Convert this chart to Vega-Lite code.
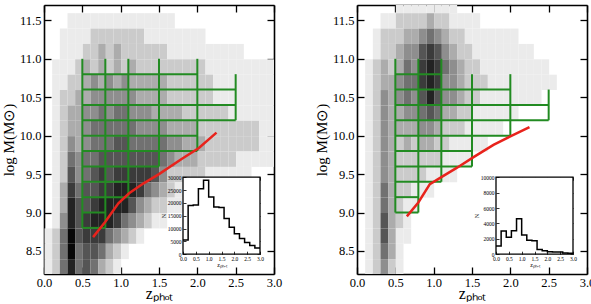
{
"$schema":"https://vega.github.io/schema/vega-lite/v6.json",
"background":"white",
"padding":{"left":1,"top":4,"right":0,"bottom":0},
"spacing":83,
"bounds":"flush",
"config":{
 "view":{"stroke":null},
 "axis":{"grid":false,"zindex":1,"labelFont":"Liberation Serif","titleFont":"Liberation Serif","labelColor":"black","titleColor":"black","tickColor":"black","domainColor":"black","titleFontWeight":"normal","labelFlush":false,"labelOverlap":false}
},
"datasets":{
"densA":[
{"z":0.3,"m":11.4,"d":1},{"z":0.4,"m":11.4,"d":1},{"z":0.5,"m":11.4,"d":1},{"z":0.6,"m":11.4,"d":1},{"z":0.7,"m":11.4,"d":1},{"z":0.8,"m":11.4,"d":1},{"z":0.9,"m":11.4,"d":1},{"z":1.0,"m":11.4,"d":1},{"z":1.1,"m":11.4,"d":1},{"z":1.2,"m":11.4,"d":1},{"z":1.3,"m":11.4,"d":1},{"z":1.4,"m":11.4,"d":1},{"z":1.5,"m":11.4,"d":1},{"z":1.6,"m":11.4,"d":1},
{"z":0.2,"m":11.2,"d":1},{"z":0.3,"m":11.2,"d":1},{"z":0.4,"m":11.2,"d":1},{"z":0.5,"m":11.2,"d":1},{"z":0.6,"m":11.2,"d":2},{"z":0.7,"m":11.2,"d":2},{"z":0.8,"m":11.2,"d":2},{"z":0.9,"m":11.2,"d":2},{"z":1.0,"m":11.2,"d":2},{"z":1.1,"m":11.2,"d":2},{"z":1.2,"m":11.2,"d":2},{"z":1.3,"m":11.2,"d":1},{"z":1.4,"m":11.2,"d":1},{"z":1.5,"m":11.2,"d":1},{"z":1.6,"m":11.2,"d":1},{"z":1.7,"m":11.2,"d":1},{"z":1.8,"m":11.2,"d":1},{"z":1.9,"m":11.2,"d":1},{"z":2.0,"m":11.2,"d":1},
{"z":0.2,"m":11.0,"d":1},{"z":0.3,"m":11.0,"d":1},{"z":0.4,"m":11.0,"d":1},{"z":0.5,"m":11.0,"d":2},{"z":0.6,"m":11.0,"d":2},{"z":0.7,"m":11.0,"d":3},{"z":0.8,"m":11.0,"d":2},{"z":0.9,"m":11.0,"d":3},{"z":1.0,"m":11.0,"d":2},{"z":1.1,"m":11.0,"d":2},{"z":1.2,"m":11.0,"d":2},{"z":1.3,"m":11.0,"d":2},{"z":1.4,"m":11.0,"d":2},{"z":1.5,"m":11.0,"d":2},{"z":1.6,"m":11.0,"d":1},{"z":1.7,"m":11.0,"d":1},{"z":1.8,"m":11.0,"d":1},{"z":1.9,"m":11.0,"d":1},{"z":2.0,"m":11.0,"d":1},{"z":2.1,"m":11.0,"d":1},{"z":2.2,"m":11.0,"d":1},{"z":2.3,"m":11.0,"d":1},{"z":2.4,"m":11.0,"d":1},{"z":2.5,"m":11.0,"d":1},
{"z":0.1,"m":10.8,"d":1},{"z":0.2,"m":10.8,"d":1},{"z":0.3,"m":10.8,"d":1},{"z":0.4,"m":10.8,"d":2},{"z":0.5,"m":10.8,"d":3},{"z":0.6,"m":10.8,"d":2},{"z":0.7,"m":10.8,"d":3},{"z":0.8,"m":10.8,"d":2},{"z":0.9,"m":10.8,"d":3},{"z":1.0,"m":10.8,"d":2},{"z":1.1,"m":10.8,"d":3},{"z":1.2,"m":10.8,"d":2},{"z":1.3,"m":10.8,"d":2},{"z":1.4,"m":10.8,"d":2},{"z":1.5,"m":10.8,"d":2},{"z":1.6,"m":10.8,"d":2},{"z":1.7,"m":10.8,"d":2},{"z":1.8,"m":10.8,"d":2},{"z":1.9,"m":10.8,"d":2},{"z":2.0,"m":10.8,"d":2},{"z":2.1,"m":10.8,"d":1},{"z":2.2,"m":10.8,"d":1},{"z":2.3,"m":10.8,"d":1},{"z":2.4,"m":10.8,"d":1},{"z":2.5,"m":10.8,"d":1},{"z":2.6,"m":10.8,"d":1},{"z":2.7,"m":10.8,"d":1},{"z":2.8,"m":10.8,"d":1},{"z":2.9,"m":10.8,"d":1},
{"z":0.1,"m":10.6,"d":1},{"z":0.2,"m":10.6,"d":1},{"z":0.3,"m":10.6,"d":2},{"z":0.4,"m":10.6,"d":2},{"z":0.5,"m":10.6,"d":3},{"z":0.6,"m":10.6,"d":4},{"z":0.7,"m":10.6,"d":3},{"z":0.8,"m":10.6,"d":4},{"z":0.9,"m":10.6,"d":3},{"z":1.0,"m":10.6,"d":4},{"z":1.1,"m":10.6,"d":3},{"z":1.2,"m":10.6,"d":3},{"z":1.3,"m":10.6,"d":3},{"z":1.4,"m":10.6,"d":3},{"z":1.5,"m":10.6,"d":3},{"z":1.6,"m":10.6,"d":2},{"z":1.7,"m":10.6,"d":2},{"z":1.8,"m":10.6,"d":2},{"z":1.9,"m":10.6,"d":2},{"z":2.0,"m":10.6,"d":2},{"z":2.1,"m":10.6,"d":2},{"z":2.2,"m":10.6,"d":1},{"z":2.3,"m":10.6,"d":1},{"z":2.4,"m":10.6,"d":1},{"z":2.5,"m":10.6,"d":1},{"z":2.6,"m":10.6,"d":1},{"z":2.7,"m":10.6,"d":1},{"z":2.8,"m":10.6,"d":1},{"z":2.9,"m":10.6,"d":1},
{"z":0.1,"m":10.4,"d":1},{"z":0.2,"m":10.4,"d":2},{"z":0.3,"m":10.4,"d":2},{"z":0.4,"m":10.4,"d":3},{"z":0.5,"m":10.4,"d":3},{"z":0.6,"m":10.4,"d":4},{"z":0.7,"m":10.4,"d":4},{"z":0.8,"m":10.4,"d":4},{"z":0.9,"m":10.4,"d":4},{"z":1.0,"m":10.4,"d":4},{"z":1.1,"m":10.4,"d":4},{"z":1.2,"m":10.4,"d":3},{"z":1.3,"m":10.4,"d":3},{"z":1.4,"m":10.4,"d":3},{"z":1.5,"m":10.4,"d":3},{"z":1.6,"m":10.4,"d":2},{"z":1.7,"m":10.4,"d":2},{"z":1.8,"m":10.4,"d":2},{"z":1.9,"m":10.4,"d":2},{"z":2.0,"m":10.4,"d":2},{"z":2.1,"m":10.4,"d":2},{"z":2.2,"m":10.4,"d":1},{"z":2.3,"m":10.4,"d":1},{"z":2.4,"m":10.4,"d":1},{"z":2.5,"m":10.4,"d":1},{"z":2.6,"m":10.4,"d":1},{"z":2.7,"m":10.4,"d":1},{"z":2.8,"m":10.4,"d":1},{"z":2.9,"m":10.4,"d":1},
{"z":0.1,"m":10.2,"d":1},{"z":0.2,"m":10.2,"d":2},{"z":0.3,"m":10.2,"d":3},{"z":0.4,"m":10.2,"d":3},{"z":0.5,"m":10.2,"d":4},{"z":0.6,"m":10.2,"d":4},{"z":0.7,"m":10.2,"d":5},{"z":0.8,"m":10.2,"d":4},{"z":0.9,"m":10.2,"d":5},{"z":1.0,"m":10.2,"d":5},{"z":1.1,"m":10.2,"d":4},{"z":1.2,"m":10.2,"d":4},{"z":1.3,"m":10.2,"d":4},{"z":1.4,"m":10.2,"d":3},{"z":1.5,"m":10.2,"d":3},{"z":1.6,"m":10.2,"d":3},{"z":1.7,"m":10.2,"d":3},{"z":1.8,"m":10.2,"d":2},{"z":1.9,"m":10.2,"d":2},{"z":2.0,"m":10.2,"d":2},{"z":2.1,"m":10.2,"d":2},{"z":2.2,"m":10.2,"d":2},{"z":2.3,"m":10.2,"d":2},{"z":2.4,"m":10.2,"d":1},{"z":2.5,"m":10.2,"d":1},{"z":2.6,"m":10.2,"d":1},{"z":2.7,"m":10.2,"d":1},{"z":2.8,"m":10.2,"d":1},{"z":2.9,"m":10.2,"d":1},
{"z":0.1,"m":10.0,"d":1},{"z":0.2,"m":10.0,"d":2},{"z":0.3,"m":10.0,"d":3},{"z":0.4,"m":10.0,"d":3},{"z":0.5,"m":10.0,"d":4},{"z":0.6,"m":10.0,"d":5},{"z":0.7,"m":10.0,"d":5},{"z":0.8,"m":10.0,"d":5},{"z":0.9,"m":10.0,"d":5},{"z":1.0,"m":10.0,"d":5},{"z":1.1,"m":10.0,"d":5},{"z":1.2,"m":10.0,"d":4},{"z":1.3,"m":10.0,"d":4},{"z":1.4,"m":10.0,"d":4},{"z":1.5,"m":10.0,"d":4},{"z":1.6,"m":10.0,"d":3},{"z":1.7,"m":10.0,"d":3},{"z":1.8,"m":10.0,"d":3},{"z":1.9,"m":10.0,"d":3},{"z":2.0,"m":10.0,"d":2},{"z":2.1,"m":10.0,"d":2},{"z":2.2,"m":10.0,"d":2},{"z":2.3,"m":10.0,"d":2},{"z":2.4,"m":10.0,"d":2},{"z":2.5,"m":10.0,"d":2},{"z":2.6,"m":10.0,"d":2},{"z":2.7,"m":10.0,"d":2},{"z":2.8,"m":10.0,"d":1},{"z":2.9,"m":10.0,"d":1},
{"z":0.1,"m":9.8,"d":1},{"z":0.2,"m":9.8,"d":2},{"z":0.3,"m":9.8,"d":4},{"z":0.4,"m":9.8,"d":3},{"z":0.5,"m":9.8,"d":4},{"z":0.6,"m":9.8,"d":5},{"z":0.7,"m":9.8,"d":5},{"z":0.8,"m":9.8,"d":5},{"z":0.9,"m":9.8,"d":6},{"z":1.0,"m":9.8,"d":6},{"z":1.1,"m":9.8,"d":5},{"z":1.2,"m":9.8,"d":5},{"z":1.3,"m":9.8,"d":5},{"z":1.4,"m":9.8,"d":5},{"z":1.5,"m":9.8,"d":5},{"z":1.6,"m":9.8,"d":4},{"z":1.7,"m":9.8,"d":4},{"z":1.8,"m":9.8,"d":3},{"z":1.9,"m":9.8,"d":3},{"z":2.0,"m":9.8,"d":3},{"z":2.1,"m":9.8,"d":2},{"z":2.2,"m":9.8,"d":2},{"z":2.3,"m":9.8,"d":2},{"z":2.4,"m":9.8,"d":2},{"z":2.5,"m":9.8,"d":2},{"z":2.6,"m":9.8,"d":2},{"z":2.7,"m":9.8,"d":2},{"z":2.8,"m":9.8,"d":1},{"z":2.9,"m":9.8,"d":1},
{"z":0.1,"m":9.6,"d":1},{"z":0.2,"m":9.6,"d":2},{"z":0.3,"m":9.6,"d":5},{"z":0.4,"m":9.6,"d":4},{"z":0.5,"m":9.6,"d":5},{"z":0.6,"m":9.6,"d":5},{"z":0.7,"m":9.6,"d":6},{"z":0.8,"m":9.6,"d":6},{"z":0.9,"m":9.6,"d":6},{"z":1.0,"m":9.6,"d":6},{"z":1.1,"m":9.6,"d":6},{"z":1.2,"m":9.6,"d":6},{"z":1.3,"m":9.6,"d":6},{"z":1.4,"m":9.6,"d":6},{"z":1.5,"m":9.6,"d":5},{"z":1.6,"m":9.6,"d":4},{"z":1.7,"m":9.6,"d":3},{"z":1.8,"m":9.6,"d":3},{"z":1.9,"m":9.6,"d":3},{"z":2.0,"m":9.6,"d":2},{"z":2.1,"m":9.6,"d":2},{"z":2.2,"m":9.6,"d":2},{"z":2.3,"m":9.6,"d":2},{"z":2.4,"m":9.6,"d":2},{"z":2.5,"m":9.6,"d":1},{"z":2.6,"m":9.6,"d":1},{"z":2.7,"m":9.6,"d":1},{"z":2.8,"m":9.6,"d":1},{"z":2.9,"m":9.6,"d":1},
{"z":0.1,"m":9.4,"d":1},{"z":0.2,"m":9.4,"d":2},{"z":0.3,"m":9.4,"d":6},{"z":0.4,"m":9.4,"d":4},{"z":0.5,"m":9.4,"d":5},{"z":0.6,"m":9.4,"d":6},{"z":0.7,"m":9.4,"d":7},{"z":0.8,"m":9.4,"d":6},{"z":0.9,"m":9.4,"d":7},{"z":1.0,"m":9.4,"d":7},{"z":1.1,"m":9.4,"d":7},{"z":1.2,"m":9.4,"d":7},{"z":1.3,"m":9.4,"d":7},{"z":1.4,"m":9.4,"d":6},{"z":1.5,"m":9.4,"d":4},{"z":1.6,"m":9.4,"d":2},{"z":1.7,"m":9.4,"d":2},{"z":1.8,"m":9.4,"d":2},{"z":1.9,"m":9.4,"d":2},{"z":2.0,"m":9.4,"d":2},{"z":2.1,"m":9.4,"d":1},{"z":2.2,"m":9.4,"d":1},{"z":2.3,"m":9.4,"d":1},{"z":2.4,"m":9.4,"d":1},{"z":2.5,"m":9.4,"d":1},{"z":2.6,"m":9.4,"d":1},
{"z":0.1,"m":9.2,"d":1},{"z":0.2,"m":9.2,"d":3},{"z":0.3,"m":9.2,"d":7},{"z":0.4,"m":9.2,"d":5},{"z":0.5,"m":9.2,"d":6},{"z":0.6,"m":9.2,"d":6},{"z":0.7,"m":9.2,"d":7},{"z":0.8,"m":9.2,"d":7},{"z":0.9,"m":9.2,"d":8},{"z":1.0,"m":9.2,"d":8},{"z":1.1,"m":9.2,"d":8},{"z":1.2,"m":9.2,"d":7},{"z":1.3,"m":9.2,"d":5},{"z":1.4,"m":9.2,"d":4},{"z":1.5,"m":9.2,"d":3},{"z":1.6,"m":9.2,"d":2},{"z":1.7,"m":9.2,"d":1},{"z":1.8,"m":9.2,"d":1},{"z":1.9,"m":9.2,"d":1},{"z":2.0,"m":9.2,"d":1},{"z":2.1,"m":9.2,"d":1},
{"z":0.1,"m":9.0,"d":1},{"z":0.2,"m":9.0,"d":3},{"z":0.3,"m":9.0,"d":8},{"z":0.4,"m":9.0,"d":6},{"z":0.5,"m":9.0,"d":6},{"z":0.6,"m":9.0,"d":7},{"z":0.7,"m":9.0,"d":8},{"z":0.8,"m":9.0,"d":8},{"z":0.9,"m":9.0,"d":8},{"z":1.0,"m":9.0,"d":8},{"z":1.1,"m":9.0,"d":6},{"z":1.2,"m":9.0,"d":4},{"z":1.3,"m":9.0,"d":3},{"z":1.4,"m":9.0,"d":2},{"z":1.5,"m":9.0,"d":2},{"z":1.6,"m":9.0,"d":1},{"z":1.7,"m":9.0,"d":1},
{"z":0.1,"m":8.8,"d":1},{"z":0.2,"m":8.8,"d":4},{"z":0.3,"m":8.8,"d":8},{"z":0.4,"m":8.8,"d":6},{"z":0.5,"m":8.8,"d":7},{"z":0.6,"m":8.8,"d":8},{"z":0.7,"m":8.8,"d":8},{"z":0.8,"m":8.8,"d":8},{"z":0.9,"m":8.8,"d":7},{"z":1.0,"m":8.8,"d":5},{"z":1.1,"m":8.8,"d":4},{"z":1.2,"m":8.8,"d":3},{"z":1.3,"m":8.8,"d":2},{"z":1.4,"m":8.8,"d":1},{"z":1.5,"m":8.8,"d":1},
{"z":0.0,"m":8.6,"d":1},{"z":0.1,"m":8.6,"d":2},{"z":0.2,"m":8.6,"d":5},{"z":0.3,"m":8.6,"d":9},{"z":0.4,"m":8.6,"d":6},{"z":0.5,"m":8.6,"d":7},{"z":0.6,"m":8.6,"d":7},{"z":0.7,"m":8.6,"d":7},{"z":0.8,"m":8.6,"d":5},{"z":0.9,"m":8.6,"d":4},{"z":1.0,"m":8.6,"d":3},{"z":1.1,"m":8.6,"d":2},{"z":1.2,"m":8.6,"d":1},
{"z":0.0,"m":8.4,"d":1},{"z":0.1,"m":8.4,"d":2},{"z":0.2,"m":8.4,"d":5},{"z":0.3,"m":8.4,"d":9},{"z":0.4,"m":8.4,"d":5},{"z":0.5,"m":8.4,"d":6},{"z":0.6,"m":8.4,"d":6},{"z":0.7,"m":8.4,"d":5},{"z":0.8,"m":8.4,"d":3},{"z":0.9,"m":8.4,"d":2},{"z":1.0,"m":8.4,"d":1},
{"z":0.0,"m":8.2,"d":1},{"z":0.1,"m":8.2,"d":2},{"z":0.2,"m":8.2,"d":5},{"z":0.3,"m":8.2,"d":8},{"z":0.4,"m":8.2,"d":5},{"z":0.5,"m":8.2,"d":6},{"z":0.6,"m":8.2,"d":5},{"z":0.7,"m":8.2,"d":3},{"z":0.8,"m":8.2,"d":2},{"z":0.9,"m":8.2,"d":1}
],
"densB":[
{"z":0.5,"m":11.6,"d":1},{"z":0.6,"m":11.6,"d":1},{"z":0.7,"m":11.6,"d":1},{"z":0.8,"m":11.6,"d":1},{"z":0.9,"m":11.6,"d":1},{"z":1.0,"m":11.6,"d":1},{"z":1.1,"m":11.6,"d":1},{"z":1.2,"m":11.6,"d":1},
{"z":0.3,"m":11.4,"d":1},{"z":0.4,"m":11.4,"d":1},{"z":0.5,"m":11.4,"d":2},{"z":0.6,"m":11.4,"d":2},{"z":0.7,"m":11.4,"d":2},{"z":0.8,"m":11.4,"d":2},{"z":0.9,"m":11.4,"d":3},{"z":1.0,"m":11.4,"d":2},{"z":1.1,"m":11.4,"d":2},{"z":1.2,"m":11.4,"d":1},{"z":1.3,"m":11.4,"d":1},{"z":1.4,"m":11.4,"d":1},{"z":1.5,"m":11.4,"d":1},
{"z":0.2,"m":11.2,"d":1},{"z":0.3,"m":11.2,"d":2},{"z":0.4,"m":11.2,"d":2},{"z":0.5,"m":11.2,"d":2},{"z":0.6,"m":11.2,"d":3},{"z":0.7,"m":11.2,"d":3},{"z":0.8,"m":11.2,"d":4},{"z":0.9,"m":11.2,"d":5},{"z":1.0,"m":11.2,"d":4},{"z":1.1,"m":11.2,"d":3},{"z":1.2,"m":11.2,"d":2},{"z":1.3,"m":11.2,"d":2},{"z":1.4,"m":11.2,"d":1},{"z":1.5,"m":11.2,"d":1},{"z":1.6,"m":11.2,"d":1},{"z":1.7,"m":11.2,"d":1},{"z":1.8,"m":11.2,"d":1},{"z":1.9,"m":11.2,"d":1},{"z":2.0,"m":11.2,"d":1},
{"z":0.2,"m":11.0,"d":1},{"z":0.3,"m":11.0,"d":2},{"z":0.4,"m":11.0,"d":2},{"z":0.5,"m":11.0,"d":3},{"z":0.6,"m":11.0,"d":4},{"z":0.7,"m":11.0,"d":4},{"z":0.8,"m":11.0,"d":6},{"z":0.9,"m":11.0,"d":7},{"z":1.0,"m":11.0,"d":6},{"z":1.1,"m":11.0,"d":4},{"z":1.2,"m":11.0,"d":3},{"z":1.3,"m":11.0,"d":2},{"z":1.4,"m":11.0,"d":2},{"z":1.5,"m":11.0,"d":1},{"z":1.6,"m":11.0,"d":1},{"z":1.7,"m":11.0,"d":1},{"z":1.8,"m":11.0,"d":1},{"z":1.9,"m":11.0,"d":1},{"z":2.0,"m":11.0,"d":1},{"z":2.1,"m":11.0,"d":1},{"z":2.2,"m":11.0,"d":1},
{"z":0.1,"m":10.8,"d":1},{"z":0.2,"m":10.8,"d":2},{"z":0.3,"m":10.8,"d":3},{"z":0.4,"m":10.8,"d":2},{"z":0.5,"m":10.8,"d":3},{"z":0.6,"m":10.8,"d":5},{"z":0.7,"m":10.8,"d":4},{"z":0.8,"m":10.8,"d":7},{"z":0.9,"m":10.8,"d":8},{"z":1.0,"m":10.8,"d":7},{"z":1.1,"m":10.8,"d":5},{"z":1.2,"m":10.8,"d":4},{"z":1.3,"m":10.8,"d":3},{"z":1.4,"m":10.8,"d":2},{"z":1.5,"m":10.8,"d":2},{"z":1.6,"m":10.8,"d":1},{"z":1.7,"m":10.8,"d":1},{"z":1.8,"m":10.8,"d":1},{"z":1.9,"m":10.8,"d":1},{"z":2.0,"m":10.8,"d":1},{"z":2.1,"m":10.8,"d":1},{"z":2.2,"m":10.8,"d":1},{"z":2.3,"m":10.8,"d":1},{"z":2.4,"m":10.8,"d":1},
{"z":0.1,"m":10.6,"d":1},{"z":0.2,"m":10.6,"d":2},{"z":0.3,"m":10.6,"d":3},{"z":0.4,"m":10.6,"d":3},{"z":0.5,"m":10.6,"d":4},{"z":0.6,"m":10.6,"d":5},{"z":0.7,"m":10.6,"d":5},{"z":0.8,"m":10.6,"d":7},{"z":0.9,"m":10.6,"d":8},{"z":1.0,"m":10.6,"d":7},{"z":1.1,"m":10.6,"d":4},{"z":1.2,"m":10.6,"d":4},{"z":1.3,"m":10.6,"d":3},{"z":1.4,"m":10.6,"d":2},{"z":1.5,"m":10.6,"d":2},{"z":1.6,"m":10.6,"d":2},{"z":1.7,"m":10.6,"d":1},{"z":1.8,"m":10.6,"d":1},{"z":1.9,"m":10.6,"d":1},{"z":2.0,"m":10.6,"d":1},{"z":2.1,"m":10.6,"d":1},{"z":2.2,"m":10.6,"d":1},{"z":2.3,"m":10.6,"d":1},{"z":2.4,"m":10.6,"d":1},{"z":2.5,"m":10.6,"d":1},
{"z":0.1,"m":10.4,"d":1},{"z":0.2,"m":10.4,"d":2},{"z":0.3,"m":10.4,"d":4},{"z":0.4,"m":10.4,"d":3},{"z":0.5,"m":10.4,"d":4},{"z":0.6,"m":10.4,"d":5},{"z":0.7,"m":10.4,"d":4},{"z":0.8,"m":10.4,"d":6},{"z":0.9,"m":10.4,"d":8},{"z":1.0,"m":10.4,"d":6},{"z":1.1,"m":10.4,"d":4},{"z":1.2,"m":10.4,"d":4},{"z":1.3,"m":10.4,"d":3},{"z":1.4,"m":10.4,"d":2},{"z":1.5,"m":10.4,"d":2},{"z":1.6,"m":10.4,"d":1},{"z":1.7,"m":10.4,"d":1},{"z":1.8,"m":10.4,"d":1},{"z":1.9,"m":10.4,"d":1},{"z":2.0,"m":10.4,"d":1},{"z":2.1,"m":10.4,"d":1},{"z":2.2,"m":10.4,"d":1},{"z":2.3,"m":10.4,"d":1},
{"z":0.1,"m":10.2,"d":1},{"z":0.2,"m":10.2,"d":2},{"z":0.3,"m":10.2,"d":4},{"z":0.4,"m":10.2,"d":3},{"z":0.5,"m":10.2,"d":3},{"z":0.6,"m":10.2,"d":4},{"z":0.7,"m":10.2,"d":4},{"z":0.8,"m":10.2,"d":5},{"z":0.9,"m":10.2,"d":6},{"z":1.0,"m":10.2,"d":5},{"z":1.1,"m":10.2,"d":3},{"z":1.2,"m":10.2,"d":3},{"z":1.3,"m":10.2,"d":2},{"z":1.4,"m":10.2,"d":2},{"z":1.5,"m":10.2,"d":1},{"z":1.6,"m":10.2,"d":1},{"z":1.7,"m":10.2,"d":1},{"z":1.8,"m":10.2,"d":1},{"z":1.9,"m":10.2,"d":1},{"z":2.0,"m":10.2,"d":1},
{"z":0.1,"m":10.0,"d":1},{"z":0.2,"m":10.0,"d":2},{"z":0.3,"m":10.0,"d":4},{"z":0.4,"m":10.0,"d":3},{"z":0.5,"m":10.0,"d":3},{"z":0.6,"m":10.0,"d":3},{"z":0.7,"m":10.0,"d":3},{"z":0.8,"m":10.0,"d":4},{"z":0.9,"m":10.0,"d":4},{"z":1.0,"m":10.0,"d":3},{"z":1.1,"m":10.0,"d":2},{"z":1.2,"m":10.0,"d":2},{"z":1.3,"m":10.0,"d":2},{"z":1.4,"m":10.0,"d":1},{"z":1.5,"m":10.0,"d":1},{"z":1.6,"m":10.0,"d":1},{"z":1.7,"m":10.0,"d":1},{"z":1.8,"m":10.0,"d":1},
{"z":0.1,"m":9.8,"d":1},{"z":0.2,"m":9.8,"d":2},{"z":0.3,"m":9.8,"d":4},{"z":0.4,"m":9.8,"d":3},{"z":0.5,"m":9.8,"d":2},{"z":0.6,"m":9.8,"d":3},{"z":0.7,"m":9.8,"d":2},{"z":0.8,"m":9.8,"d":3},{"z":0.9,"m":9.8,"d":3},{"z":1.0,"m":9.8,"d":2},{"z":1.1,"m":9.8,"d":2},{"z":1.2,"m":9.8,"d":1},{"z":1.3,"m":9.8,"d":1},{"z":1.4,"m":9.8,"d":1},{"z":1.5,"m":9.8,"d":1},{"z":1.6,"m":9.8,"d":1},
{"z":0.1,"m":9.6,"d":1},{"z":0.2,"m":9.6,"d":2},{"z":0.3,"m":9.6,"d":4},{"z":0.4,"m":9.6,"d":3},{"z":0.5,"m":9.6,"d":2},{"z":0.6,"m":9.6,"d":2},{"z":0.7,"m":9.6,"d":2},{"z":0.8,"m":9.6,"d":2},{"z":0.9,"m":9.6,"d":2},{"z":1.0,"m":9.6,"d":2},{"z":1.1,"m":9.6,"d":1},{"z":1.2,"m":9.6,"d":1},{"z":1.3,"m":9.6,"d":1},{"z":1.4,"m":9.6,"d":1},
{"z":0.1,"m":9.4,"d":1},{"z":0.2,"m":9.4,"d":2},{"z":0.3,"m":9.4,"d":4},{"z":0.4,"m":9.4,"d":3},{"z":0.5,"m":9.4,"d":2},{"z":0.6,"m":9.4,"d":2},{"z":0.7,"m":9.4,"d":2},{"z":0.8,"m":9.4,"d":2},{"z":0.9,"m":9.4,"d":1},{"z":1.0,"m":9.4,"d":1},{"z":1.1,"m":9.4,"d":1},{"z":1.2,"m":9.4,"d":1},
{"z":0.1,"m":9.2,"d":1},{"z":0.2,"m":9.2,"d":2},{"z":0.3,"m":9.2,"d":5},{"z":0.4,"m":9.2,"d":3},{"z":0.5,"m":9.2,"d":2},{"z":0.6,"m":9.2,"d":2},{"z":0.7,"m":9.2,"d":1},{"z":0.8,"m":9.2,"d":1},{"z":0.9,"m":9.2,"d":1},
{"z":0.1,"m":9.0,"d":1},{"z":0.2,"m":9.0,"d":2},{"z":0.3,"m":9.0,"d":5},{"z":0.4,"m":9.0,"d":3},{"z":0.5,"m":9.0,"d":2},{"z":0.6,"m":9.0,"d":1},{"z":0.7,"m":9.0,"d":1},
{"z":0.1,"m":8.8,"d":1},{"z":0.2,"m":8.8,"d":2},{"z":0.3,"m":8.8,"d":6},{"z":0.4,"m":8.8,"d":3},{"z":0.5,"m":8.8,"d":2},{"z":0.6,"m":8.8,"d":1},
{"z":0.1,"m":8.6,"d":1},{"z":0.2,"m":8.6,"d":2},{"z":0.3,"m":8.6,"d":6},{"z":0.4,"m":8.6,"d":3},{"z":0.5,"m":8.6,"d":1},{"z":0.6,"m":8.6,"d":1},
{"z":0.1,"m":8.4,"d":1},{"z":0.2,"m":8.4,"d":2},{"z":0.3,"m":8.4,"d":5},{"z":0.4,"m":8.4,"d":3},{"z":0.5,"m":8.4,"d":1},
{"z":0.1,"m":8.2,"d":1},{"z":0.2,"m":8.2,"d":2},{"z":0.3,"m":8.2,"d":4},{"z":0.4,"m":8.2,"d":2},{"z":0.5,"m":8.2,"d":1}
],
"gridA":[
{"z":0.5,"z2":0.5,"m":8.8,"m2":11},{"z":0.8,"z2":0.8,"m":8.8,"m2":11},{"z":1.1,"z2":1.1,"m":9.2,"m2":11},{"z":1.5,"z2":1.5,"m":9.6,"m2":11},{"z":2,"z2":2,"m":9.8,"m2":11},{"z":2.5,"z2":2.5,"m":10.2,"m2":10.8},
{"z":0.5,"z2":2,"m":10.8,"m2":10.8},{"z":0.5,"z2":2.5,"m":10.6,"m2":10.6},{"z":0.5,"z2":2.5,"m":10.4,"m2":10.4},{"z":0.5,"z2":2.5,"m":10.2,"m2":10.2},{"z":0.5,"z2":2,"m":10,"m2":10},{"z":0.5,"z2":2,"m":9.8,"m2":9.8},{"z":0.5,"z2":1.5,"m":9.6,"m2":9.6},{"z":0.5,"z2":1.1,"m":9.4,"m2":9.4},{"z":0.5,"z2":1.1,"m":9.2,"m2":9.2},{"z":0.5,"z2":0.8,"m":9,"m2":9},{"z":0.5,"z2":0.8,"m":8.8,"m2":8.8}
],
"gridB":[
{"z":0.5,"z2":0.5,"m":9,"m2":11},{"z":0.8,"z2":0.8,"m":9,"m2":11},{"z":1.1,"z2":1.1,"m":9.4,"m2":11},{"z":1.5,"z2":1.5,"m":9.6,"m2":10.8},{"z":2,"z2":2,"m":10,"m2":10.8},{"z":2.5,"z2":2.5,"m":10.2,"m2":10.6},
{"z":0.5,"z2":1.1,"m":10.8,"m2":10.8},{"z":0.5,"z2":2,"m":10.6,"m2":10.6},{"z":0.5,"z2":2.5,"m":10.4,"m2":10.4},{"z":0.5,"z2":2.5,"m":10.2,"m2":10.2},{"z":0.5,"z2":2,"m":10,"m2":10},{"z":0.5,"z2":1.5,"m":9.8,"m2":9.8},{"z":0.5,"z2":1.5,"m":9.6,"m2":9.6},{"z":0.5,"z2":1.1,"m":9.4,"m2":9.4},{"z":0.5,"z2":0.8,"m":9.2,"m2":9.2},{"z":0.5,"z2":0.8,"m":9,"m2":9}
],
"limA":[
{"z":0.64,"m":8.68},{"z":0.8,"m":8.88},{"z":0.97,"m":9.12},{"z":1.11,"m":9.25},{"z":1.3,"m":9.38},{"z":1.5,"m":9.5},{"z":1.8,"m":9.7},{"z":2.02,"m":9.84},{"z":2.25,"m":10.04}
],
"limB":[
{"z":0.65,"m":8.95},{"z":0.8,"m":9.13},{"z":0.95,"m":9.37},{"z":1.1,"m":9.46},{"z":1.3,"m":9.58},{"z":1.52,"m":9.72},{"z":1.78,"m":9.88},{"z":2.0,"m":9.99},{"z":2.25,"m":10.11}
],
"histA":[
{"z":0,"n":5500},{"z":0.2,"n":19000},{"z":0.4,"n":19200},{"z":0.6,"n":25500},{"z":0.8,"n":28800},{"z":1.0,"n":22300},{"z":1.2,"n":18400},{"z":1.4,"n":18200},{"z":1.6,"n":13900},{"z":1.8,"n":10500},{"z":2.0,"n":8000},{"z":2.2,"n":6100},{"z":2.4,"n":4600},{"z":2.6,"n":3400},{"z":2.8,"n":2400},{"z":3.0,"n":2400}
],
"histB":[
{"z":0,"n":1050},{"z":0.2,"n":3000},{"z":0.4,"n":2200},{"z":0.6,"n":3050},{"z":0.8,"n":4600},{"z":1.0,"n":2500},{"z":1.2,"n":1800},{"z":1.4,"n":1750},{"z":1.6,"n":600},{"z":1.8,"n":450},{"z":2.0,"n":320},{"z":2.2,"n":300},{"z":2.4,"n":280},{"z":2.6,"n":150},{"z":2.8,"n":110},{"z":3.0,"n":110}
]
},
"hconcat":[
{
"width":230,"height":269,
"resolve":{"scale":{"x":"independent","y":"independent","color":"independent"},"axis":{"x":"independent","y":"independent"}},
"layer":[
{"data":{"name":"densA"},"mark":{"type":"rect","clip":true},"encoding":{
 "x":{"field":"z","type":"quantitative","bin":{"binned":true,"step":0.1},"scale":{"domain":[0,3],"nice":false,"zero":false},"axis":null},
 "y":{"field":"m","type":"quantitative","bin":{"binned":true,"step":0.2},"scale":{"domain":[8.2,11.7],"nice":false,"zero":false},"axis":null},
 "color":{"field":"d","type":"quantitative","scale":{"domain":[0.4,9],"range":["#ffffff","#080808"],"clamp":true},"legend":null}}},
{"data":{"name":"gridA"},"mark":{"type":"rule","color":"#228b22","strokeWidth":2},"encoding":{
 "x":{"field":"z","type":"quantitative","scale":{"domain":[0,3],"nice":false,"zero":false},"axis":{"orient":"bottom","values":[0,0.5,1,1.5,2,2.5,3],"format":".1f","tickSize":-7,"tickWidth":1.3,"labelPadding":9,"labelFontSize":12.5,"domain":true,"domainWidth":1.6,"title":"zₚₕₒₜ","titleFontSize":16,"titlePadding":-3}},
 "x2":{"field":"z2"},
 "y":{"field":"m","type":"quantitative","scale":{"domain":[8.2,11.7],"nice":false,"zero":false},"axis":{"orient":"left","values":[8.5,9,9.5,10,10.5,11,11.5],"format":".1f","tickSize":-7,"tickWidth":1.3,"labelPadding":10,"labelFontSize":12.5,"domain":true,"domainWidth":1.6,"title":"log M(M⊙)","titleFontSize":15,"titlePadding":3}},
 "y2":{"field":"m2"}}},
{"data":{"name":"limA"},"mark":{"type":"line","color":"#e8231c","strokeWidth":2.5},"encoding":{
 "x":{"field":"z","type":"quantitative","scale":{"domain":[0,3],"nice":false,"zero":false},"axis":{"orient":"top","values":[0,0.5,1,1.5,2,2.5,3],"tickSize":-7,"tickWidth":1.3,"labels":false,"domain":true,"domainWidth":1.6,"title":null}},
 "y":{"field":"m","type":"quantitative","scale":{"domain":[8.2,11.7],"nice":false,"zero":false},"axis":{"orient":"right","values":[8.5,9,9.5,10,10.5,11,11.5],"tickSize":-7,"tickWidth":1.3,"labels":false,"domain":true,"domainWidth":1.6,"title":null}}}},
{"data":{"values":[{}]},"mark":{"type":"rect","fill":"white","stroke":"black","strokeWidth":1.3},"encoding":{
 "x":{"datum":0,"type":"quantitative","scale":{"domain":[0,3],"range":[139,216],"nice":false,"zero":false},"axis":{"orient":"top","offset":-172.2,"values":[0,0.5,1,1.5,2,2.5,3],"tickSize":-3,"tickWidth":0.8,"labels":false,"domain":false,"title":null}},
 "x2":{"datum":3},
 "y":{"datum":0,"type":"quantitative","scale":{"domain":[0,30000],"range":[249.2,172.2],"nice":false,"zero":false},"axis":{"orient":"right","offset":-14,"values":[0,5000,10000,15000,20000,25000,30000],"tickSize":-3,"tickWidth":0.8,"labels":false,"domain":false,"title":null}},
 "y2":{"datum":30000}}},
{"data":{"name":"histA"},"mark":{"type":"line","interpolate":"step-after","color":"black","strokeWidth":1.5},"encoding":{
 "x":{"field":"z","type":"quantitative","scale":{"domain":[0,3],"range":[139,216],"nice":false,"zero":false},"axis":{"orient":"bottom","offset":-19.8,"zindex":2,"values":[0,0.5,1,1.5,2,2.5,3],"format":".1f","tickSize":-3,"tickWidth":0.8,"labelPadding":5,"labelFontSize":5.5,"labelOverlap":false,"domain":false,"title":"zₚₕₒₜ","titleFontSize":6,"titlePadding":0}},
 "y":{"field":"n","type":"quantitative","scale":{"domain":[0,30000],"range":[249.2,172.2],"nice":false,"zero":false},"axis":{"orient":"left","offset":-139,"zindex":2,"values":[0,5000,10000,15000,20000,25000,30000],"format":"d","tickSize":-3,"tickWidth":0.8,"labelPadding":5,"labelFontSize":5.5,"labelOverlap":false,"labelBound":false,"domain":false,"title":"N","titleFontSize":6,"titlePadding":1}}}}
]
},
{
"width":230,"height":269,
"resolve":{"scale":{"x":"independent","y":"independent","color":"independent"},"axis":{"x":"independent","y":"independent"}},
"layer":[
{"data":{"name":"densB"},"mark":{"type":"rect","clip":true},"encoding":{
 "x":{"field":"z","type":"quantitative","bin":{"binned":true,"step":0.1},"scale":{"domain":[0,3],"nice":false,"zero":false},"axis":null},
 "y":{"field":"m","type":"quantitative","bin":{"binned":true,"step":0.2},"scale":{"domain":[8.2,11.7],"nice":false,"zero":false},"axis":null},
 "color":{"field":"d","type":"quantitative","scale":{"domain":[0.4,9],"range":["#ffffff","#080808"],"clamp":true},"legend":null}}},
{"data":{"name":"gridB"},"mark":{"type":"rule","color":"#228b22","strokeWidth":2},"encoding":{
 "x":{"field":"z","type":"quantitative","scale":{"domain":[0,3],"nice":false,"zero":false},"axis":{"orient":"bottom","values":[0,0.5,1,1.5,2,2.5,3],"format":".1f","tickSize":-7,"tickWidth":1.3,"labelPadding":9,"labelFontSize":12.5,"domain":true,"domainWidth":1.6,"title":"zₚₕₒₜ","titleFontSize":16,"titlePadding":-3}},
 "x2":{"field":"z2"},
 "y":{"field":"m","type":"quantitative","scale":{"domain":[8.2,11.7],"nice":false,"zero":false},"axis":{"orient":"left","values":[8.5,9,9.5,10,10.5,11,11.5],"format":".1f","tickSize":-7,"tickWidth":1.3,"labelPadding":10,"labelFontSize":12.5,"domain":true,"domainWidth":1.6,"title":"log M(M⊙)","titleFontSize":15,"titlePadding":3}},
 "y2":{"field":"m2"}}},
{"data":{"name":"limB"},"mark":{"type":"line","color":"#e8231c","strokeWidth":2.5},"encoding":{
 "x":{"field":"z","type":"quantitative","scale":{"domain":[0,3],"nice":false,"zero":false},"axis":{"orient":"top","values":[0,0.5,1,1.5,2,2.5,3],"tickSize":-7,"tickWidth":1.3,"labels":false,"domain":true,"domainWidth":1.6,"title":null}},
 "y":{"field":"m","type":"quantitative","scale":{"domain":[8.2,11.7],"nice":false,"zero":false},"axis":{"orient":"right","values":[8.5,9,9.5,10,10.5,11,11.5],"tickSize":-7,"tickWidth":1.3,"labels":false,"domain":true,"domainWidth":1.6,"title":null}}}},
{"data":{"values":[{}]},"mark":{"type":"rect","fill":"white","stroke":"black","strokeWidth":1.3},"encoding":{
 "x":{"datum":0,"type":"quantitative","scale":{"domain":[0,3],"range":[139,216],"nice":false,"zero":false},"axis":{"orient":"top","offset":-172.2,"values":[0,0.5,1,1.5,2,2.5,3],"tickSize":-3,"tickWidth":0.8,"labels":false,"domain":false,"title":null}},
 "x2":{"datum":3},
 "y":{"datum":0,"type":"quantitative","scale":{"domain":[0,10000],"range":[249.2,172.2],"nice":false,"zero":false},"axis":{"orient":"right","offset":-14,"values":[0,2000,4000,6000,8000,10000],"tickSize":-3,"tickWidth":0.8,"labels":false,"domain":false,"title":null}},
 "y2":{"datum":10000}}},
{"data":{"name":"histB"},"mark":{"type":"line","interpolate":"step-after","color":"black","strokeWidth":1.5},"encoding":{
 "x":{"field":"z","type":"quantitative","scale":{"domain":[0,3],"range":[139,216],"nice":false,"zero":false},"axis":{"orient":"bottom","offset":-19.8,"zindex":2,"values":[0,0.5,1,1.5,2,2.5,3],"format":".1f","tickSize":-3,"tickWidth":0.8,"labelPadding":5,"labelFontSize":5.5,"labelOverlap":false,"domain":false,"title":"zₚₕₒₜ","titleFontSize":6,"titlePadding":0}},
 "y":{"field":"n","type":"quantitative","scale":{"domain":[0,10000],"range":[249.2,172.2],"nice":false,"zero":false},"axis":{"orient":"left","offset":-139,"zindex":2,"values":[0,2000,4000,6000,8000,10000],"format":"d","tickSize":-3,"tickWidth":0.8,"labelPadding":5,"labelFontSize":5.5,"labelOverlap":false,"labelBound":false,"domain":false,"title":"N","titleFontSize":6,"titlePadding":1}}}}
]
}
]
}
